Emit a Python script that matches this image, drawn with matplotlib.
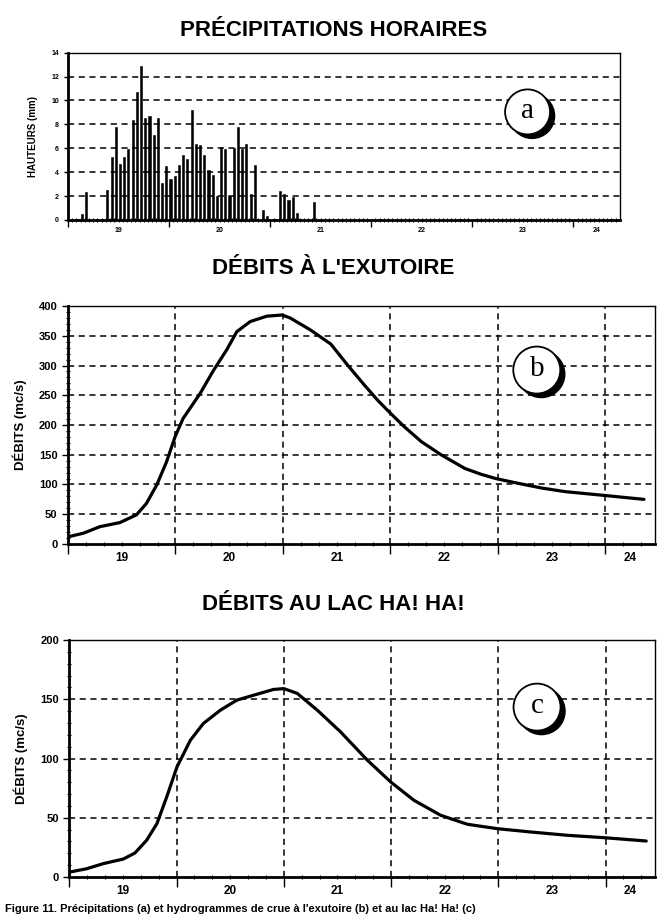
import matplotlib
matplotlib.use('Agg')
import matplotlib.pyplot as plt
import numpy as np
from matplotlib.patches import Circle
from matplotlib.transforms import ScaledTranslation

plt.rcParams['font.family'] = ['Liberation Sans', 'DejaVu Sans']

# ========== données ==========
# heures depuis le 19 à 0h
DAYS = [19, 20, 21, 22, 23, 24]

RAIN_HOURS = list(range(2, 59))
RAIN_MM = [0.1, 0.5, 2.3, 0, 0, 0, 0.1, 2.5, 5.3, 7.8, 4.7, 5.3, 5.9, 8.4,
           10.7, 12.9, 8.5, 8.7, 7.1, 8.5, 3.1, 4.5, 3.4, 3.7, 4.6, 5.4, 5.1,
           9.2, 6.4, 6.3, 5.4, 4.2, 3.8, 2.0, 6.1, 5.9, 2.0, 6.0, 7.8, 5.9,
           6.4, 2.2, 4.6, 0, 0.8, 0.3, 0, 0.1, 2.4, 2.2, 1.7, 1.9, 0.6, 0, 0,
           0, 1.5]

EXU_HOURS = [0, 3.4, 7.1, 11.6, 15.3, 17.5, 19.8, 22, 23.9, 25.7, 29.5, 32.5,
             35.4, 37.7, 40.7, 44.4, 47.8, 49.6, 54.1, 58.7, 62.4, 66.2, 69.1,
             71.7, 75.1, 78.9, 83.3, 88.6, 92.3, 95.5, 100.5, 105.8, 111,
             119.2, 128.6]
EXU_Q = [12, 18, 29, 36, 49, 68, 99, 138, 180, 211, 253, 292, 326, 357, 374,
         383, 385, 380, 360, 336, 301, 267, 242, 222, 197, 172, 150, 127, 117,
         110, 102, 94, 88, 82, 75]

LAC_HOURS = [0.1, 3.9, 7.6, 12.1, 14.7, 17.3, 19.6, 21.8, 24.1, 27.1, 30,
             33.8, 37.5, 41.3, 45.7, 48, 51, 55.5, 60.7, 66.7, 71.9, 77.1,
             83.1, 89.1, 95.8, 103.3, 111.5, 119.7, 129.1]
LAC_Q = [4.2, 7, 11.3, 15.2, 20.3, 31, 45, 67.6, 93, 115.5, 129.6, 140.8,
         149.3, 153.5, 158.3, 159, 155, 140.8, 122.5, 98.6, 80.3, 64.8, 52.1,
         44.5, 40.8, 38, 35.2, 33.2, 30.4]

XMAX = 131


def day_axis(ax, minor_step, label_size, major_len, label_pad):
    ax.set_xlim(0, XMAX)
    ax.set_xticks([(d - DAYS[0]) * 24 for d in DAYS])
    ax.set_xticklabels([])
    ax.set_xticks(np.arange(0, XMAX, minor_step), minor=True)
    ax.tick_params(axis='x', which='major', direction='out', length=major_len,
                   width=1)
    ax.tick_params(axis='x', which='minor', direction='inout', length=3,
                   width=0.8)
    # étiquettes des jours centrées sur chaque journée
    for d in DAYS:
        start = (d - DAYS[0]) * 24
        mid = (start + min(start + 24, XMAX)) / 2
        ax.text(mid, -label_pad, str(d), transform=ax.get_xaxis_transform(),
                ha='center', va='top', fontsize=label_size, fontweight='bold')


def style_frame(ax):
    for s in ['left', 'bottom']:
        ax.spines[s].set_linewidth(2.0)
    for s in ['top', 'right']:
        ax.spines[s].set_linewidth(1.0)


def badge(fig, ax, xf, yf, letter, r=0.225):
    tr = fig.dpi_scale_trans + ScaledTranslation(xf, yf, ax.transAxes)
    ax.add_artist(Circle((0.045, -0.04), r, transform=tr, facecolor='black',
                         edgecolor='black', zorder=5, clip_on=False))
    ax.add_artist(Circle((0, 0), r, transform=tr, facecolor='white',
                         edgecolor='black', linewidth=1.3, zorder=6,
                         clip_on=False))
    ax.text(0, 0.01, letter, transform=tr, ha='center', va='center',
            fontsize=21, family='Liberation Serif', zorder=7)


fig = plt.figure(figsize=(6.6, 9.15), dpi=100)

dash = (0, (4, 3))

# ---------- (a) précipitations ----------
ax1 = fig.add_axes([0.103, 0.7596, 0.836, 0.1828])
ax1.bar(np.array(RAIN_HOURS) + 0.1, RAIN_MM, width=0.5, align='edge',
        color='black', edgecolor='black', linewidth=0.4)
ax1.set_ylim(0, 14)
ax1.set_yticks(range(0, 15, 2))
for v in range(2, 14, 2):
    ax1.axhline(v, color='black', linestyle=dash, linewidth=1.1, zorder=0)
ax1.tick_params(axis='y', labelsize=5, length=3, width=1)
for lb in ax1.get_yticklabels():
    lb.set_fontweight('bold')
day_axis(ax1, 1, 5, 5, 0.04)
style_frame(ax1)
ax1.set_ylabel('HAUTEURS (mm)', fontsize=7, fontweight='bold')
ax1.yaxis.set_label_coords(-0.055, 0.5)
badge(fig, ax1, 0.833, 0.646, 'a')
fig.text(0.505, 1 - 30 / 915, 'PRÉCIPITATIONS HORAIRES', ha='center',
         va='center', fontsize=16, fontweight='bold')

# ---------- (b) débits à l'exutoire ----------
ax2 = fig.add_axes([0.103, 0.4055, 0.889, 0.260])
ax2.plot(EXU_HOURS, EXU_Q, color='black', linewidth=2.3,
         solid_capstyle='round', solid_joinstyle='round')
ax2.set_ylim(0, 400)
ax2.set_yticks(range(0, 401, 50))
ax2.set_yticks(range(0, 401, 10), minor=True)

# ---------- (c) débits au lac Ha! Ha! ----------
ax3 = fig.add_axes([0.105, 0.0415, 0.887, 0.259])
ax3.plot(LAC_HOURS, LAC_Q, color='black', linewidth=2.3,
         solid_capstyle='round', solid_joinstyle='round')
ax3.set_ylim(0, 200)
ax3.set_yticks(range(0, 201, 50))
ax3.set_yticks(range(0, 201, 10), minor=True)

for ax, top in [(ax2, 400), (ax3, 200)]:
    for v in range(50, top, 50):
        ax.axhline(v, color='black', linestyle=dash, linewidth=1.1, zorder=0)
    for d in DAYS[1:]:
        ax.axvline((d - DAYS[0]) * 24, color='black', linestyle=dash,
                   linewidth=1.1, zorder=0)
    ax.tick_params(axis='y', which='major', labelsize=8, length=4, width=1)
    ax.tick_params(axis='y', which='minor', length=2.5, width=0.8,
                   direction='inout')
    for lb in ax.get_yticklabels():
        lb.set_fontweight('bold')
    day_axis(ax, 4, 8.5, 7, 0.035)
    style_frame(ax)
    ax.set_ylabel('DÉBITS (mc/s)', fontsize=9.5, fontweight='bold')
    ax.yaxis.set_label_coords(-0.07, 0.5)

badge(fig, ax2, 0.799, 0.731, 'b', r=0.235)
badge(fig, ax3, 0.799, 0.717, 'c', r=0.235)

fig.text(0.505, 1 - 268 / 915, "DÉBITS À L'EXUTOIRE", ha='center',
         va='center', fontsize=16, fontweight='bold')
fig.text(0.505, 1 - 605 / 915, 'DÉBITS AU LAC HA! HA!', ha='center',
         va='center', fontsize=16, fontweight='bold')

fig.text(0.008, 1.5 / 915,
         "Figure 11. Précipitations (a) et hydrogrammes de crue à l'exutoire (b) et au lac Ha! Ha! (c)",
         ha='left', va='bottom', fontsize=8, fontweight='bold')

fig.savefig('out.png', dpi=100)
